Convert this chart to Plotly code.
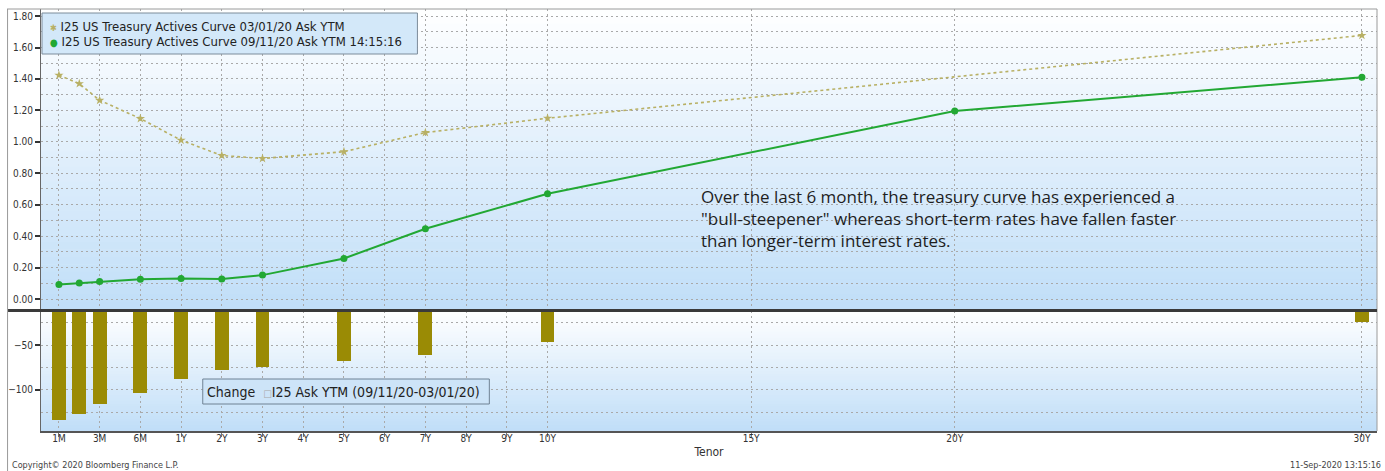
import plotly.graph_objects as go

# ---------------- data ----------------
tenors = ["1M", "2M", "3M", "6M", "1Y", "2Y", "3Y", "5Y", "7Y", "10Y", "20Y", "30Y"]
tenor_pos = [-2, -1.5, -1, 0, 1, 2, 3, 5, 7, 10, 20, 30]  # axis position of each tenor
ytm_old = [1.424, 1.37, 1.264, 1.148, 1.01, 0.913, 0.894, 0.937, 1.059, 1.15, None, 1.677]
ytm_new = [0.093, 0.101, 0.112, 0.125, 0.131, 0.127, 0.152, 0.258, 0.447, 0.669, 1.196, 1.41]
change_bp = [-133, -127, -115.5, -103, -88, -78, -75, -68, -61, -47, None, -24]

tick_labels = ["1M", "3M", "6M", "1Y", "2Y", "3Y", "4Y", "5Y", "6Y", "7Y", "8Y", "9Y", "10Y", "15Y", "20Y", "30Y"]
tick_pos = [-2, -1, 0, 1, 2, 3, 4, 5, 6, 7, 8, 9, 10, 15, 20, 30]

name_old = "I25 US Treasury Actives Curve 03/01/20 Ask YTM"
name_new = "I25 US Treasury Actives Curve 09/11/20 Ask YTM 14:15:16"
name_chg = "I25 Ask YTM (09/11/20-03/01/20)"
note = ("Over the last 6 month, the treasury curve has experienced a<br>"
        "\"bull-steepener\" whereas short-term rates have fallen faster<br>"
        "than longer-term interest rates.")

# ---------------- geometry / style ----------------
W, H = 1385, 471
ML, MR, MT, MB = 39, 8, 9, 40
PW, PH = W - ML - MR, H - MT - MB


def px(xp):
    return (xp - ML) / PW


def py(yp):
    return (H - MB - yp) / PH


SANS = "DejaVu Sans Condensed, DejaVu Sans, sans-serif"
TICKFONT = dict(family=SANS, size=10, color="#333333")
GRID = dict(showgrid=True, gridcolor="#a9a9a9", gridwidth=1, griddash="2px,3px")

OLD_C = "#b8b064"
NEW_C = "#22a833"
BAR_C = "#9a8b05"

fig = go.Figure()

fig.add_trace(go.Scatter(
    x=tenor_pos, y=ytm_old, mode="lines+markers", name=name_old,
    connectgaps=True, text=tenors,
    line=dict(color=OLD_C, width=1.6, dash="dot"),
    marker=dict(symbol="star", size=7, color=OLD_C),
    xaxis="x", yaxis="y", showlegend=False))

fig.add_trace(go.Scatter(
    x=tenor_pos, y=ytm_new, mode="lines+markers", name=name_new,
    text=tenors,
    line=dict(color=NEW_C, width=2),
    marker=dict(symbol="circle", size=7, color=NEW_C),
    xaxis="x", yaxis="y", showlegend=False))

fig.add_trace(go.Bar(
    x=tenor_pos, y=change_bp, name=name_chg, text=tenors, textposition="none",
    marker=dict(color=BAR_C, line=dict(width=0)), width=0.34,
    xaxis="x2", yaxis="y2", showlegend=False))

xr = [-2.44, 30.37]
common_x = dict(range=xr, tickmode="array", tickvals=tick_pos, ticktext=tick_labels,
                zeroline=False, **GRID)

fig.update_layout(
    width=W, height=H,
    margin=dict(l=ML, r=MR, t=MT, b=MB),
    paper_bgcolor="white",
    plot_bgcolor="rgba(0,0,0,0)",
    bargap=0,
    xaxis=dict(domain=[0, 1], anchor="y", matches="x2", showticklabels=False,
               ticks="", showline=False, **common_x),
    xaxis2=dict(domain=[0, 1], anchor="y2", showticklabels=True, tickfont=TICKFONT,
                ticks="outside", ticklen=4, tickcolor="#777777", ticklabelstandoff=-7,
                showline=True, linecolor="#555555", linewidth=1.5,
                title=dict(text="Tenor", font=dict(family=SANS, size=12, color="#333333"), standoff=5),
                **common_x),
    yaxis=dict(domain=[py(310), 1], range=[-0.07, 1.845], tickmode="array",
               tickvals=[0, 0.2, 0.4, 0.6, 0.8, 1.0, 1.2, 1.4, 1.6, 1.8], tickformat=".2f",
               tickfont=TICKFONT, ticks="outside", ticklen=5, tickwidth=2, tickcolor="#333333",
               showline=True, linecolor="#666666", linewidth=1, zeroline=False,
               minor=dict(dtick=0.1, tick0=0, showgrid=True, gridcolor="#a9a9a9",
                          griddash="2px,3px", ticks=""),
               **GRID),
    yaxis2=dict(domain=[0, py(311)], range=[-145.6, -12.2], tickmode="array",
                tickvals=[-50, -100], tickfont=TICKFONT, ticks="outside", ticklen=5,
                tickwidth=2, tickcolor="#333333",
                showline=True, linecolor="#666666", linewidth=1, zeroline=False,
                minor=dict(tickvals=[-25, -75, -125], showgrid=True, gridcolor="#a9a9a9",
                           griddash="2px,3px", ticks=""),
                **GRID),
)

# ---------------- gradient backgrounds ----------------
shapes = []


def grad(c0, c1, t):
    return "rgb(%d,%d,%d)" % tuple(round(a + (b - a) * t) for a, b in zip(c0, c1))


top_c, bot_c = (255, 255, 255), (192, 222, 248)
N = 40
for yref in ("y domain", "y2 domain"):
    for i in range(N):
        shapes.append(dict(type="rect", xref="x domain", yref=yref, x0=0, x1=1,
                           y0=1 - (i + 1) / N, y1=1 - i / N + 0.002, layer="below",
                           line=dict(width=0), fillcolor=grad(top_c, bot_c, (i + 0.5) / N)))

# frame lines
shapes.append(dict(type="line", xref="paper", yref="paper", x0=px(5), x1=1, y0=1, y1=1,
                   line=dict(color="#9a9a9a", width=1)))
shapes.append(dict(type="line", xref="paper", yref="paper", x0=px(5.5), x1=px(5.5), y0=1, y1=py(471),
                   line=dict(color="#9a9a9a", width=1)))
shapes.append(dict(type="line", xref="paper", yref="paper", x0=1, x1=1, y0=0, y1=1,
                   line=dict(color="#9a9a9a", width=1)))
# separator between panels
shapes.append(dict(type="line", xref="paper", yref="paper", x0=px(6), x1=1, y0=py(310.5), y1=py(310.5),
                   line=dict(color="#3a3a3a", width=3)))
# legend boxes
shapes.append(dict(type="rect", xref="paper", yref="paper", x0=px(40), x1=px(416), y0=py(54), y1=py(13),
                   line=dict(color="#7d8c9a", width=1), fillcolor="#d3e8f9"))
shapes.append(dict(type="rect", xref="paper", yref="paper", x0=px(201), x1=px(488), y0=py(404), y1=py(379),
                   line=dict(color="#6f8294", width=1), fillcolor="#cde4f8"))

LEGFONT = dict(family=SANS, size=13, color="#222222")
annotations = [
    dict(xref="paper", yref="paper", x=px(46), y=py(26), xanchor="left", yanchor="middle",
         text='<span style="color:%s;font-size:9px">✱</span> %s' % (OLD_C, name_old),
         showarrow=False, font=LEGFONT),
    dict(xref="paper", yref="paper", x=px(46), y=py(42), xanchor="left", yanchor="middle",
         text='<span style="color:%s;font-size:10px">●</span> %s' % (NEW_C, name_new),
         showarrow=False, font=LEGFONT),
    dict(xref="paper", yref="paper", x=px(203), y=py(392), xanchor="left", yanchor="middle",
         text='Change  <span style="color:#a8a8a8;font-size:10px">□</span>%s' % name_chg,
         showarrow=False, font=dict(LEGFONT, size=14)),
    dict(xref="paper", yref="paper", x=px(698), y=py(183), xanchor="left", yanchor="top",
         align="left", text=note, showarrow=False,
         font=dict(family="Open Sans, Lato, sans-serif", size=17, color="#1e1e1e")),
    dict(xref="paper", yref="paper", x=px(8), y=py(465), xanchor="left", yanchor="middle",
         text="Copyright© 2020 Bloomberg Finance L.P.", showarrow=False,
         font=dict(family=SANS, size=9, color="#444444")),
    dict(xref="paper", yref="paper", x=px(1383), y=py(465), xanchor="right", yanchor="middle",
         text="11-Sep-2020 13:15:16", showarrow=False,
         font=dict(family=SANS, size=9, color="#444444")),
]

fig.update_layout(shapes=shapes, annotations=annotations)

fig.write_html("out.html", config={"displayModeBar": False},
               post_script="document.body.style.margin='0';")
